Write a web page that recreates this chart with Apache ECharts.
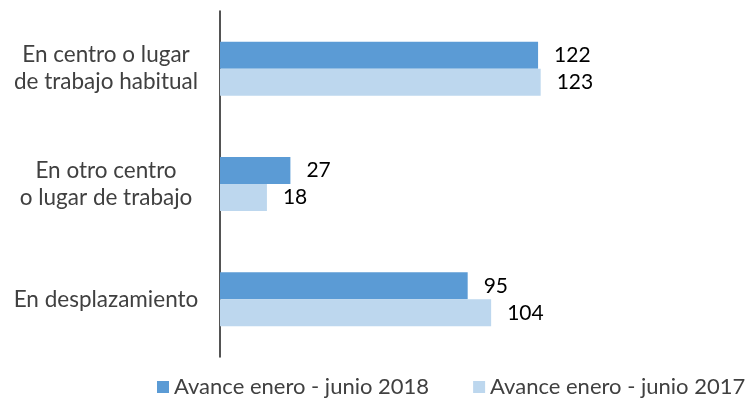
<!DOCTYPE html>
<html><head><meta charset="utf-8">
<script src="https://cdn.jsdelivr.net/npm/echarts@6/dist/echarts.min.js"></script>
<style>html,body{margin:0;padding:0;background:#fff}#c{width:752px;height:401px}</style>
</head><body><div id="c"></div>
<script>
var categories = ['En centro o lugar\nde trabajo habitual', 'En otro centro\no lugar de trabajo', 'En desplazamiento'];
var seriesNames = ['Avance enero - junio 2018', 'Avance enero - junio 2017'];
var values2018 = [122, 27, 95];
var values2017 = [123, 18, 104];
var FONT = 'Lato';
var chart = echarts.init(document.getElementById('c'));
chart.setOption({
  animation: false,
  textStyle: {fontFamily: FONT},
  legend: {
    top: 376, left: 157, padding: 0, itemWidth: 12, itemHeight: 12, itemGap: 44,
    icon: 'rect',
    textStyle: {fontSize: 22, color: '#404040', fontFamily: FONT},
    data: seriesNames
  },
  grid: {left: 220, top: 11, width: 365, bottom: 44, containLabel: false},
  xAxis: {type: 'value', min: 0, max: 140, show: false},
  yAxis: {
    type: 'category', inverse: true, data: categories,
    axisLine: {show: true, lineStyle: {color: '#1a1a1a', width: 1.5}},
    axisTick: {show: false},
    axisLabel: {
      margin: 19,
      formatter: function (v) {
        return v.split('\n').map(function (s) { return '{a|' + s + '}'; }).join('\n');
      },
      rich: {a: {width: 190, align: 'center', fontSize: 22.5, lineHeight: 27, color: '#404040', fontFamily: FONT}}
    }
  },
  series: [
    {name: seriesNames[0], type: 'bar', data: values2018, barWidth: 27, barGap: '0%',
     itemStyle: {color: '#5b9bd5'},
     label: {show: true, position: 'right', distance: 16, fontSize: 21, color: '#000', fontFamily: FONT}},
    {name: seriesNames[1], type: 'bar', data: values2017, barWidth: 27, barGap: '0%',
     itemStyle: {color: '#bdd7ee'},
     label: {show: true, position: 'right', distance: 16, fontSize: 21, color: '#000', fontFamily: FONT}}
  ]
});
</script></body></html>
